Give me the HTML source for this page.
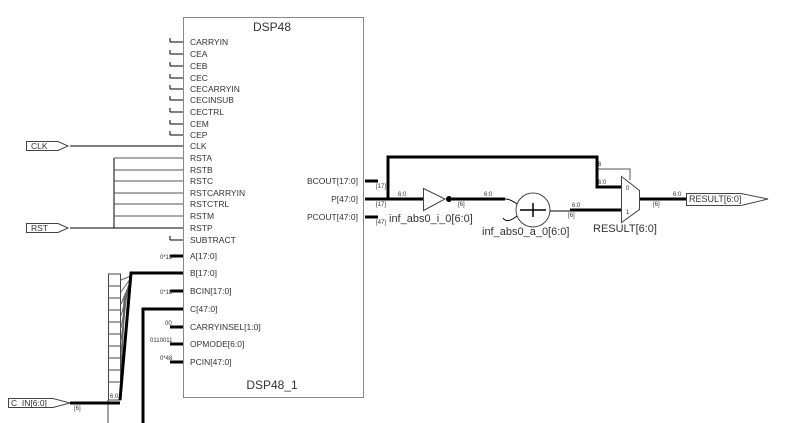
<!DOCTYPE html>
<html><head><style>body{margin:0;background:#fff}svg{display:block}text{font-family:"Liberation Sans",sans-serif;fill:#333}</style></head><body>
<svg width="785" height="423" viewBox="0 0 785 423" xmlns="http://www.w3.org/2000/svg">
<rect x="183.5" y="17.5" width="180" height="380" fill="#fff" stroke="#888"/>
<text x="272" y="31" font-size="12" text-anchor="middle">DSP48</text>
<text x="272" y="389" font-size="12" text-anchor="middle">DSP48_1</text>
<g font-size="8.5" fill="#555">
<text x="190" y="45">CARRYIN</text><text x="190" y="57">CEA</text><text x="190" y="69">CEB</text><text x="190" y="81">CEC</text>
<text x="190" y="92">CECARRYIN</text><text x="190" y="103">CECINSUB</text><text x="190" y="115">CECTRL</text><text x="190" y="127">CEM</text>
<text x="190" y="138">CEP</text><text x="190" y="149">CLK</text><text x="190" y="161">RSTA</text><text x="190" y="173">RSTB</text>
<text x="190" y="184">RSTC</text><text x="190" y="196">RSTCARRYIN</text><text x="190" y="207">RSTCTRL</text><text x="190" y="219">RSTM</text>
<text x="190" y="231">RSTP</text><text x="190" y="243">SUBTRACT</text>
<text x="190" y="259">A[17:0]</text><text x="190" y="276">B[17:0]</text><text x="190" y="294">BCIN[17:0]</text><text x="190" y="312">C[47:0]</text>
<text x="190" y="330">CARRYINSEL[1:0]</text><text x="190" y="347">OPMODE[6:0]</text><text x="190" y="365">PCIN[47:0]</text>
<text x="358" y="184" text-anchor="end">BCOUT[17:0]</text><text x="358" y="202" text-anchor="end">P[47:0]</text><text x="358" y="220" text-anchor="end">PCOUT[47:0]</text>
</g>
<g stroke="#000" stroke-width="1" fill="none">
<path d="M170 42H183M170 54H183M170 66H183M170 78H183M170 89H183M170 100H183M170 112H183M170 124H183M170 135H183M170 240H183"/>
<path d="M170 38V42M170 50V54M170 62V66M170 74V78M170 85V89M170 96V100M170 108V112M170 120V124M170 131V135M170 236V240"/>
<path d="M70 146H183"/>
<path d="M70 228H183M114 158V228"/>
<path d="M114 158H183M114 170H183M114 181H183M114 193H183M114 204H183M114 216H183" stroke="#555"/>
<path d="M26.5 141.5H58L68 146 58 150.5H26.5Z" stroke="#444"/>
<path d="M26.5 223.5H58L68 228 58 232.5H26.5Z" stroke="#444"/>
<path d="M8.5 398.5H53L70 403 53 407.5H8.5Z" stroke="#444"/>
<rect x="108.5" y="274" width="12" height="126" stroke="#444"/>
<path d="M108 286H120M108 298H120M108 310H120M108 322H120M108 334H120M108 346H120M108 358H120M108 370H120M108 382H120" stroke="#444"/>
<path d="M108 400V423" stroke="#444"/>
<path d="M121 280L131 276M121 292L131 278M121 304L131 280M121 316L130 282M121 328L129 284M121 340L128 286M121 352L127 290M121 364L126 292M121 376L125 294M121 388L124 296" stroke="#666"/>
<path d="M596 169H630V180" stroke="#555"/>
<path d="M621.5 176.5L639.5 190.5V209.5L621.5 222.5Z" stroke="#444" fill="#fff"/>
<path d="M686.5 193.5H741L768 199 741 205.5H686.5Z" stroke="#444"/>
<path d="M423.5 188.5L445 199 423.5 210.5Z" stroke="#444"/>
<circle cx="533" cy="210" r="17" stroke="#444"/>
<path d="M505 199Q510 199 517 204M550 211H570M503 218Q507 224 517 216"/>
</g>
<g stroke="#000" stroke-width="3" fill="none">
<path d="M170 256H183M170 291H183M170 344H183M170 362H183M170 327H183"/>
<path d="M70 403H120"/>
<path d="M120 400L131 273H183"/>
<path d="M143 423V309H183"/>
<path d="M365 181H378M365 199H423M365 217H378M388 199V157H597V187H621M597 169"/>
<path d="M452 199H505"/>
<path d="M570 210H621M640 199H686"/>
</g>
<circle cx="449" cy="199" r="3" fill="#000"/>
<path d="M520 210H546M533 203V217" stroke="#000" stroke-width="1.5"/>
<g font-size="6" fill="#000">
<text x="376" y="188">[17]</text><text x="376" y="206">[17]</text><text x="376" y="224">[47]</text>
<text x="398" y="196">6:0</text><text x="484" y="196">6:0</text><text x="458" y="206">[6]</text>
<text x="572" y="207">6:0</text><text x="568" y="217">[6]</text><text x="598" y="166">6</text><text x="598" y="184">6:0</text>
<text x="653" y="206">[6]</text><text x="673" y="196">6:0</text><text x="74" y="410">[6]</text><text x="110" y="398">6:0</text>
<text x="160" y="259">0*18</text><text x="160" y="294">0*18</text><text x="165" y="325">00</text><text x="150" y="342">0110011</text><text x="160" y="360">0*48</text>
<text x="626" y="190">0</text><text x="626" y="214">1</text>
</g>
<g font-size="11">
<text x="389" y="222">inf_abs0_i_0[6:0]</text>
<text x="482" y="235">inf_abs0_a_0[6:0]</text>
<text x="593" y="232">RESULT[6:0]</text>
<text x="31" y="149" font-size="8.5">CLK</text>
<text x="31" y="231" font-size="8.5">RST</text>
<text x="11" y="406" font-size="8.5">C_IN[6:0]</text>
<text x="689" y="202" font-size="9">RESULT[6:0]</text>
</g>
</svg>
</body></html>
